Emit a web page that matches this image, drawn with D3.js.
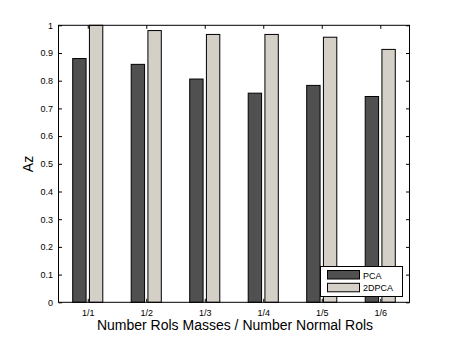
<!DOCTYPE html>
<html><head><meta charset="utf-8">
<script src="https://d3js.org/d3.v7.min.js"></script>
<style>body{margin:0;background:#fff}svg{display:block}text{font-family:"Liberation Sans",Arial,Helvetica,sans-serif}</style>
</head><body>
<script>
const categories = ["1/1","1/2","1/3","1/4","1/5","1/6"];
const seriesNames = ["PCA","2DPCA"];
const pcaValues = [0.880, 0.859, 0.806, 0.755, 0.783, 0.743];
const dpcaValues = [1.000, 0.981, 0.967, 0.967, 0.957, 0.913];
const yTicks = [0,0.1,0.2,0.3,0.4,0.5,0.6,0.7,0.8,0.9,1];
const yTickLabels = ["0","0.1","0.2","0.3","0.4","0.5","0.6","0.7","0.8","0.9","1"];
const colors = ["#505050","#d4d0c8"];

const W=453,H=340;
const m={l:58.5,r:409.5,t:25.3,b:302.3};
const svg=d3.select("body").append("svg").attr("width",W).attr("height",H);
const x=d3.scaleLinear().domain([0.5,6.5]).range([m.l,m.r]);
const y=d3.scaleLinear().domain([0,1]).range([m.b,m.t]);

const groupW=0.5714, barW=groupW/2*0.8;
const offsets=[-groupW/4, groupW/4];
const series=[pcaValues,dpcaValues];

series.forEach((vals,s)=>{
  svg.append("g").selectAll("rect").data(vals).join("rect")
    .attr("x",(d,i)=>x(i+1+offsets[s]-barW/2))
    .attr("width",(d,i)=>x(i+1+barW)-x(i+1))
    .attr("y",d=>y(d))
    .attr("height",d=>y(0)-y(d))
    .attr("fill",colors[s]).attr("stroke","#000").attr("stroke-width",1);
});

const tl=3.5;
svg.append("rect").attr("x",m.l).attr("y",m.t).attr("width",m.r-m.l).attr("height",m.b-m.t)
  .attr("fill","none").attr("stroke","#000").attr("stroke-width",1);

const ya=d3.axisLeft(y).tickValues(yTicks).tickFormat((d,i)=>yTickLabels[i]).tickSizeInner(-tl).tickSizeOuter(0).tickPadding(5.5);
const yg=svg.append("g").attr("transform",`translate(${m.l},0)`).call(ya);
const yr=d3.axisRight(y).tickValues(yTicks).tickFormat("").tickSizeInner(-tl).tickSizeOuter(0);
const yrg=svg.append("g").attr("transform",`translate(${m.r},0)`).call(yr);
const xa=d3.axisBottom(x).tickValues([1,2,3,4,5,6]).tickFormat((d,i)=>categories[i]).tickSizeInner(-tl).tickSizeOuter(0).tickPadding(7);
const xg=svg.append("g").attr("transform",`translate(0,${m.b})`).call(xa);
const xt=d3.axisTop(x).tickValues([1,2,3,4,5,6]).tickFormat("").tickSizeInner(-tl).tickSizeOuter(0);
const xtg=svg.append("g").attr("transform",`translate(0,${m.t})`).call(xt);
[yg,yrg,xg,xtg].forEach(g=>{
  g.select(".domain").remove();
  g.selectAll("line").attr("stroke","#000");
  g.selectAll("text").attr("fill","#000").style("font-size","9px").style("font-family",'"Liberation Sans",Arial,sans-serif');
});

svg.append("text").attr("x",235).attr("y",330).attr("text-anchor","middle").style("font-size","14px").text("Number Rols Masses / Number Normal Rols");
svg.append("text").attr("transform","translate(33,164) rotate(-90)").attr("text-anchor","middle").style("font-size","14px").text("Az");

const lg=svg.append("g");
lg.append("rect").attr("x",320.5).attr("y",266.5).attr("width",82).attr("height",30).attr("fill","#fff").attr("stroke","#000");
seriesNames.forEach((n,i)=>{
  lg.append("rect").attr("x",327.5).attr("y",270.5+i*12.8).attr("width",32).attr("height",8.5).attr("fill",colors[i]).attr("stroke","#000");
  lg.append("text").attr("x",363).attr("y",278.5+i*12.8).style("font-size","9px").text(n);
});
</script>
</body></html>
